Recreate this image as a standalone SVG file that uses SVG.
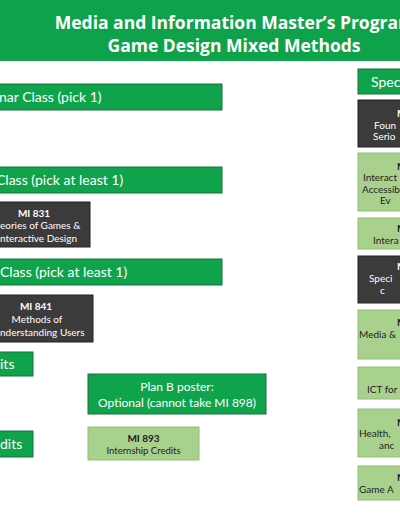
<svg xmlns="http://www.w3.org/2000/svg" width="400" height="516" viewBox="0 0 400 516">
<style>
.bar{fill:#0fa44c;stroke:#1c6e3a;stroke-width:1}
.dark{fill:#3b3b3b;stroke:#222;stroke-width:1}
.light{fill:#a9d18e;stroke:#93bd77;stroke-width:1}
.bt{font-family:Lato,"Liberation Sans",sans-serif;font-size:14px;fill:#fff}
.wt{font-family:Lato,"Liberation Sans",sans-serif;font-size:10px;fill:#fff}
.kt{font-family:Lato,"Liberation Sans",sans-serif;font-size:10px;fill:#222}
.b{font-weight:700}
.m{text-anchor:middle}
</style>
<rect x="0" y="0" width="400" height="61" fill="#0ea34b"/>
<g id="title" font-family="'Open Sans',sans-serif" font-weight="700" font-size="17.5" fill="#fff" text-anchor="middle">
<text x="235" y="29">Media and Information Master’s Program</text>
<text x="234" y="52">Game Design Mixed Methods</text>
</g>
<g id="connectors"/>
<g id="seminar-bar"><rect class="bar" x="-2" y="84" width="224" height="26"/><text class="bt" x="-1" y="102">nar Class (pick 1)</text></g>
<g id="bar2"><rect class="bar" x="-2" y="167" width="224" height="26"/><text class="bt" x="-4" y="185">Class (pick at least 1)</text></g>
<g id="mi831"><rect class="dark" x="-2" y="202" width="92" height="45"/>
<text class="wt b m" x="34" y="216.5">MI 831</text><text class="wt" x="0" y="228.5">eories of Games &amp;</text><text class="wt" x="0" y="241.5">nteractive Design</text></g>
<g id="bar3"><rect class="bar" x="-2" y="259" width="224" height="26"/><text class="bt" x="0" y="277">Class (pick at least 1)</text></g>
<g id="mi841"><rect class="dark" x="-2" y="295" width="95" height="47"/>
<text class="wt b m" x="36" y="309.5">MI 841</text><text class="wt m" x="37" y="322.5">Methods of</text><text class="wt" x="0" y="335.5">nderstanding Users</text></g>
<g id="bar-its"><rect class="bar" x="-2" y="352" width="35" height="24"/><text class="bt" x="0" y="369">its</text></g>
<g id="bar-dits"><rect class="bar" x="-2" y="431" width="35" height="26"/><text class="bt" x="0" y="449">dits</text></g>
<g id="planb"><rect class="bar" x="88" y="374" width="178" height="40"/>
<text class="bt m" style="font-size:12px" x="177" y="391">Plan B poster:</text><text class="bt m" style="font-size:12px" x="177" y="407">Optional (cannot take MI 898)</text></g>
<g id="mi893"><rect class="light" x="88" y="427" width="111" height="33"/>
<text class="kt b m" x="143.5" y="441.5">MI 893</text><text class="kt m" style="font-size:9.5px" x="143.5" y="453.5">Internship Credits</text></g>
<g id="spec"><rect class="bar" x="358" y="69" width="44" height="25"/><text class="bt" x="371" y="87">Spec</text></g>
<g id="r1"><rect class="dark" x="358" y="100" width="44" height="47"/>
<text class="wt b" x="397" y="116.5">M</text><text class="wt" x="374" y="128.5">Foun</text><text class="wt" x="373" y="139.5">Serio</text></g>
<g id="r2"><rect class="light" x="358" y="153" width="44" height="58"/>
<text class="kt b" x="397" y="169.5">M</text><text class="kt" x="363" y="180.5">Interact</text><text class="kt" x="362" y="192.5">Accessib</text><text class="kt" x="380" y="203.5">Ev</text></g>
<g id="r3"><rect class="light" x="358" y="218" width="44" height="31"/>
<text class="kt b" x="397" y="232">M</text><text class="kt" x="373" y="244">Intera</text></g>
<g id="r4"><rect class="dark" x="358" y="256" width="44" height="47"/>
<text class="wt b" x="397" y="270">M</text><text class="wt" x="369" y="282">Speci</text><text class="wt" x="380" y="294">c</text></g>
<g id="r5"><rect class="light" x="358" y="310" width="44" height="49"/>
<text class="kt b" x="397" y="326">M</text><text class="kt" x="359" y="338">Media &amp;</text></g>
<g id="r6"><rect class="light" x="358" y="367" width="44" height="32"/>
<text class="kt" x="367" y="393">ICT for</text></g>
<g id="r7"><rect class="light" x="358" y="409" width="44" height="48"/>
<text class="kt b" x="397" y="425.5">M</text><text class="kt" x="359" y="436.5">Health,</text><text class="kt" x="379" y="448.5">anc</text></g>
<g id="r8"><rect class="light" x="358" y="466" width="44" height="34"/>
<text class="kt b" x="397" y="480.5">M</text><text class="kt" x="359" y="492.5">Game A</text></g>
</svg>
